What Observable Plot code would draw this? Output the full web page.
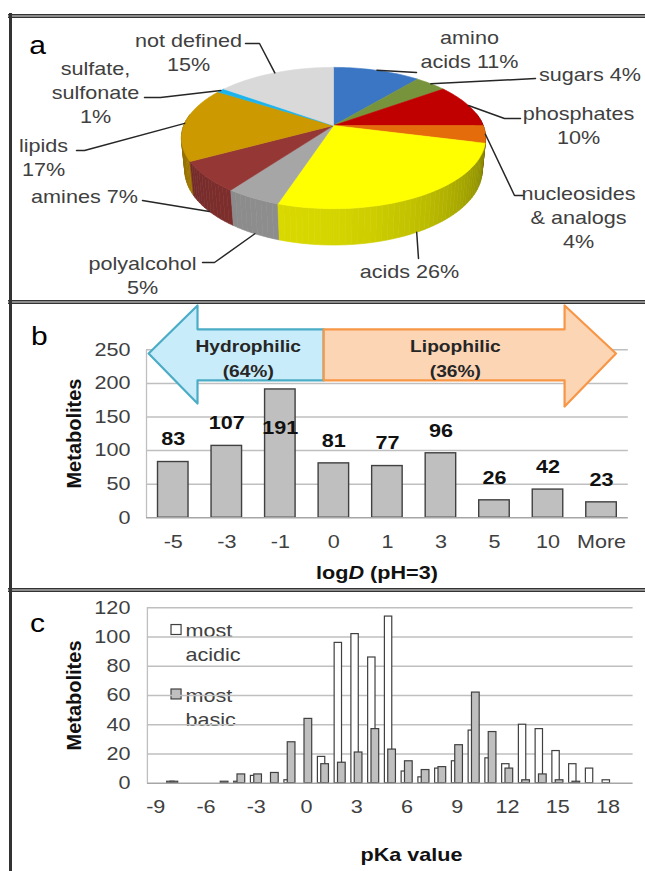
<!DOCTYPE html>
<html><head><meta charset="utf-8">
<script src="https://cdn.jsdelivr.net/npm/d3@7"></script>
<script src="https://cdn.jsdelivr.net/npm/@observablehq/plot@0.6"></script>
<style>
body{margin:0;background:#fff;}
#root{position:relative;width:645px;height:871px;overflow:hidden;font-family:"Liberation Sans",Arial,sans-serif;background:#fff;}
.panel{position:absolute;left:0;}
.hline{position:absolute;left:8px;width:640px;height:2px;background:#8c8c8c;border-top:1.5px solid #333;border-bottom:1.5px solid #333;}
.vline{position:absolute;left:8.5px;width:3px;background:#333;top:13px;height:860px;}
.hlabel{position:absolute;font-weight:bold;font-size:18px;line-height:1;color:#111;white-space:nowrap;transform:translate(-50%,-50%) scaleX(1.2);}
</style></head><body><div id="root"></div>
<script>
// ---------- DATA ----------
const pieCategories = ["amino acids","sugars","phosphates","nucleosides & analogs","acids","polyalcohol","amines","lipids","sulfate, sulfonate","not defined"];
const piePercents = [11,4,10,4,26,5,7,17,1,15];
const pieLabelNames = ["amino\nacids","sugars","phosphates","nucleosides\n& analogs","acids","polyalcohol","amines","lipids","sulfate,\nsulfonate","not defined"];

const logDBins = ["-5","-3","-1","0","1","3","5","10","More"];
const logDCounts = [83,107,191,81,77,96,26,42,23];
const logDTicks = [0,50,100,150,200,250];
const logDClasses = ["Hydrophilic\n(64%)","Lipophilic\n(36%)"];

const pKaBins = [-9,-8,-7,-6,-5,-4,-3,-2,-1,0,1,2,3,4,5,6,7,8,9,10,11,12,13,14,15,16,17,18,19];
const mostAcidic = [0,1,0,0,0,1,5,0,2,0,18,96,102,86,114,8,4,10,15,36,17,13,40,37,22,13,10,2,0];
const mostBasic  = [0,1,0,0,1,6,6,7,28,44,13,14,21,37,23,15,9,11,26,62,35,10,2,6,2,1,0,0,0];
const pKaTicks = [-9,-6,-3,0,3,6,9,12,15,18];
const pKaYTicks = [0,20,40,60,80,100,120];
const pKaSeries = ["most\nacidic","most\nbasic"];

// ---------- STYLES / LAYOUT ----------
const pieColors = ["#3b76c4","#77933c","#c00000","#e46c0a","#ffff00","#a6a6a6","#953735","#cc9900","#1cb4ee","#d9d9d9"];
const pctBreak = [" "," ","\n","\n"," ","\n"," ","\n","\n","\n"];
// label centres and leader elbows (page px)
const pieLabelPos = [[469,47.5],[589.5,73],[578,123.5],[578,215.5],[409,270],[142,273.5],[84,195],[43,155.5],[95,91],[188,50.5]];
const pieLeaderTail = [[[416,72]],[[535,78]],[[504,118],[520,118]],[[514,195],[523,195]],[[418,258]],[[214,262],[202,262]],[[148,201],[142,200]],[[84,150],[76,150]],[[160,97],[144,97]],[[259,43],[245,43]]];
const STRETCH = 1.2;
const FONT = "Liberation Sans, Arial, sans-serif";
const TXT = "#404040";

function stretchText(svg){
  svg.querySelectorAll("text").forEach(t=>{
    const tr = t.getAttribute("transform")||"";
    if (/rotate/.test(tr)) return;
    let pre = "";
    const x = t.getAttribute("x");
    if (x !== null && /^-?[\d.]+(e-?\d+)?$/.test(x.trim())) { pre = `translate(${x},0)`; t.removeAttribute("x"); }
    t.setAttribute("transform", `${tr} ${pre} scale(${STRETCH},1)`.trim());
  });
  return svg;
}
const root = document.getElementById("root");
function place(svg, top){ const d=document.createElement("div"); d.className="panel"; d.style.top=top+"px"; d.appendChild(svg); root.appendChild(d); stretchText(svg); }

// ---------- PANEL A: 3D pie ----------
const PXU = 150, CX = 333, CY = 125;
const Dp = 5.01, Fp = 5.0, Sp = 0.457, Cp = 0.889, Hp = 0.245, rad = Math.PI/180;
function proj(phi, Y){
  const X = Math.sin(phi*rad), Z = Math.cos(phi*rad);
  const yc = Y*Cp + Z*Sp, zc = Dp + Z*Cp - Y*Sp;
  return [Fp*X/zc, Fp*yc/zc];
}
const ux = px => (px-CX)/PXU, uy = py => (CY-py)/PXU;
function shade(col, phi){ const L = Math.cos((phi-200)*rad); return d3.interpolateRgb(col,"#000")(Math.max(0.1, 0.45-0.3*L)); }

const slices = []; let cum = 0;
piePercents.forEach((p,i)=>{ const a0=cum*3.6; cum+=p; slices.push({i, a0, a1:cum*3.6}); });
const sides = [];
slices.forEach(s=>{
  const lo=Math.max(s.a0,80), hi=Math.min(s.a1,280);
  if (hi<=lo) return;
  const n=Math.ceil((hi-lo)/2);
  for(let k=0;k<n;k++){
    const p0=lo+(hi-lo)*k/n, p1=lo+(hi-lo)*(k+1)/n, pm=(p0+p1)/2;
    sides.push({id:`s${s.i}_${k}`, depth:Math.cos(pm*rad), color:shade(pieColors[s.i],pm),
      pts:[proj(p0,0),proj(p1,0),proj(p1,-Hp),proj(p0,-Hp),proj(p0,0)]});
  }
});
sides.sort((a,b)=>b.depth-a.depth);
const tops = slices.map(s=>{
  const pts=[[0,0]]; const n=Math.max(2,Math.ceil((s.a1-s.a0)/1.5));
  for(let k=0;k<=n;k++) pts.push(proj(s.a0+(s.a1-s.a0)*k/n,0));
  pts.push([0,0]);
  return {id:`t${s.i}`, color:pieColors[s.i], pts};
});
const polyRows = [...sides, ...tops].flatMap(p=>p.pts.map(([x,y])=>({id:p.id,color:p.color,x,y})));

const leaderRows = slices.flatMap(s=>{
  const pm=(s.a0+s.a1)/2;
  const start = proj(pm, Math.cos(pm*rad) < -0.3 ? -Hp : 0);
  return [{id:s.i,x:start[0],y:start[1]}, ...pieLeaderTail[s.i].map(([px,py])=>({id:s.i,x:ux(px),y:uy(py)}))];
});
const pieLabelRows = pieCategories.map((c,i)=>({
  x:ux(pieLabelPos[i][0]), y:uy(pieLabelPos[i][1]), text: pieLabelNames[i]+pctBreak[i]+piePercents[i]+"%"
}));

const plotA = Plot.plot({
  width:645, height:300, margin:0,
  x:{domain:[ux(0),ux(645)], axis:null},
  y:{domain:[uy(300),uy(0)], axis:null},
  color:{type:"identity"},
  style:{fontFamily:FONT, fontSize:"18px", color:TXT, background:"transparent", overflow:"visible"},
  marks:[
    Plot.line(polyRows,{x:"x",y:"y",z:"id",fill:"color",stroke:"color",strokeWidth:0.6,curve:"linear"}),
    Plot.line(leaderRows,{x:"x",y:"y",z:"id",stroke:"#262626",strokeWidth:1.5}),
    Plot.text(pieLabelRows,{x:"x",y:"y",text:"text",fontSize:18,fill:TXT,lineAnchor:"middle",textAnchor:"middle",lineHeight:1.33}),
    Plot.text([{t:"a"}],{x:ux(37),y:uy(45),text:"t",fontSize:25,fill:"#000",lineAnchor:"middle"})
  ]
});
place(plotA, 0);

// ---------- PANEL B: logD histogram ----------
const bRows = logDBins.map((b,i)=>({i, bin:b, count:logDCounts[i]}));
const arrowRows = [
  ...[[-0.46,244.5],[0.453,316],[0.453,280.5],[2.81,280.5],[2.81,204.5],[0.453,204.5],[0.453,170],[-0.46,244.5]].map(([x,y])=>({id:"h",x,y})),
  ...[[2.81,280.5],[7.31,280.5],[7.31,316],[8.27,244.5],[7.31,165.6],[7.31,204.5],[2.81,204.5],[2.81,280.5]].map(([x,y])=>({id:"l",x,y}))
];
const plotB = Plot.plot({
  width:645, height:290, marginLeft:146, marginRight:17.2, marginTop:49.3, marginBottom:72.7,
  x:{domain:[-0.5,8.5], ticks:logDBins.map((b,i)=>i), tickFormat:i=>logDBins[i], tickSize:0, tickPadding:17, label:null},
  y:{domain:[0,250], ticks:logDTicks, tickFormat:String, tickSize:0, tickPadding:16, label:null},
  style:{fontFamily:FONT, fontSize:"18px", color:TXT, background:"transparent", overflow:"visible"},
  marks:[
    Plot.ruleY(logDTicks.filter(d=>d>0),{stroke:"#bfbfbf",strokeWidth:1.5}),
    Plot.ruleX([-0.5],{y1:0,y2:250,stroke:"#bfbfbf",strokeWidth:1.3}),
    Plot.rect(bRows,{x1:d=>d.i-0.285,x2:d=>d.i+0.285,y1:0,y2:"count",fill:"#bfbfbf",stroke:"#404040",strokeWidth:1.4}),
    Plot.ruleY([0],{stroke:"#a6a6a6",strokeWidth:1.5}),
    Plot.text(bRows,{x:"i",y:d=>d.count>150?100:d.count,text:d=>String(d.count),dy:-22.5,fontSize:18,fontWeight:"bold",fill:"#111"}),
    Plot.line(arrowRows.filter(d=>d.id==="h"),{x:"x",y:"y",fill:"#c8ecf9",stroke:"#4bacc6",strokeWidth:2.2}),
    Plot.line(arrowRows.filter(d=>d.id==="l"),{x:"x",y:"y",fill:"#fcd5b5",stroke:"#f79646",strokeWidth:2.2}),
    Plot.text([{x:1.40,t:logDClasses[0]},{x:5.27,t:logDClasses[1]}],{x:"x",y:240.5,text:"t",fontSize:16,fontWeight:"bold",fill:"#262626",lineAnchor:"middle",lineHeight:1.56}),
    Plot.text([{t:"Metabolites"}],{x:-1.846,y:125.4,text:"t",rotate:-90,fontSize:20,fontWeight:"bold",fill:"#111"}),
    Plot.text([{t:"b"}],{x:-2.5,y:268.8,text:"t",fontSize:25,fill:"#000",lineAnchor:"middle"})
  ]
});
place(plotB, 300);

// ---------- PANEL C: pKa histogram ----------
const cRows = pKaBins.map((b,i)=>({b, acidic:mostAcidic[i], basic:mostBasic[i]}));
const plotC = Plot.plot({
  width:645, height:281, marginLeft:146.9, marginRight:12.4, marginTop:17.3, marginBottom:88.3,
  x:{domain:[-9.5,19.5], ticks:pKaTicks, tickFormat:String, tickSize:0, tickPadding:17, label:null},
  y:{domain:[0,120], ticks:pKaYTicks, tickFormat:String, tickSize:0, tickPadding:17, label:null},
  style:{fontFamily:FONT, fontSize:"18px", color:TXT, background:"transparent", overflow:"visible"},
  marks:[
    Plot.rect([{x1:-8.06,x2:-7.46,y1:101.4,y2:108.2}],{x1:"x1",x2:"x2",y1:"y1",y2:"y2",fill:"#fff",stroke:"#404040",strokeWidth:1.2}),
    Plot.rect([{x1:-8.06,x2:-7.46,y1:57.3,y2:64.1}],{x1:"x1",x2:"x2",y1:"y1",y2:"y2",fill:"#bfbfbf",stroke:"#404040",strokeWidth:1.2}),
    Plot.text([{y:96.9,t:pKaSeries[0]},{y:52.8,t:pKaSeries[1]}],{x:-7.23,y:"y",text:"t",textAnchor:"start",lineAnchor:"middle",lineHeight:1.33,fontSize:18,fill:TXT}),
    Plot.ruleY(pKaYTicks.filter(d=>d>0),{stroke:"#bfbfbf",strokeWidth:1.5}),
    Plot.ruleX([-9.5],{y1:0,y2:120,stroke:"#bfbfbf",strokeWidth:1.3}),
    Plot.rect(cRows.filter(d=>d.acidic>0),{x1:d=>d.b-0.32,x2:d=>d.b+0.12,y1:0,y2:"acidic",fill:"#fff",stroke:"#404040",strokeWidth:1.2}),
    Plot.rect(cRows.filter(d=>d.basic>0),{x1:d=>d.b-0.12,x2:d=>d.b+0.34,y1:0,y2:"basic",fill:"#bfbfbf",stroke:"#404040",strokeWidth:1.2}),
    Plot.ruleY([0],{stroke:"#a6a6a6",strokeWidth:1.5}),
    Plot.text([{t:"Metabolites"}],{x:-13.85,y:60,text:"t",rotate:-90,fontSize:20,fontWeight:"bold",fill:"#111"}),
    Plot.text([{t:"pKa value"}],{x:6.27,y:-49.5,text:"t",fontSize:18,fontWeight:"bold",fill:"#111"}),
    Plot.text([{t:"c"}],{x:-16.06,y:109.2,text:"t",fontSize:25,fill:"#000",lineAnchor:"middle"})
  ]
});
place(plotC, 590);

// HTML axis label with italic D
const lab = document.createElement("div");
lab.className="hlabel"; lab.style.left="377px"; lab.style.top="573px";
lab.innerHTML = "log<i>D</i> (pH=3)";
root.appendChild(lab);

// panel borders
[13.5, 299.5, 587.5].forEach(t=>{ const d=document.createElement("div"); d.className="hline"; d.style.top=t+"px"; root.appendChild(d); });
const v=document.createElement("div"); v.className="vline"; root.appendChild(v);
</script></body></html>
